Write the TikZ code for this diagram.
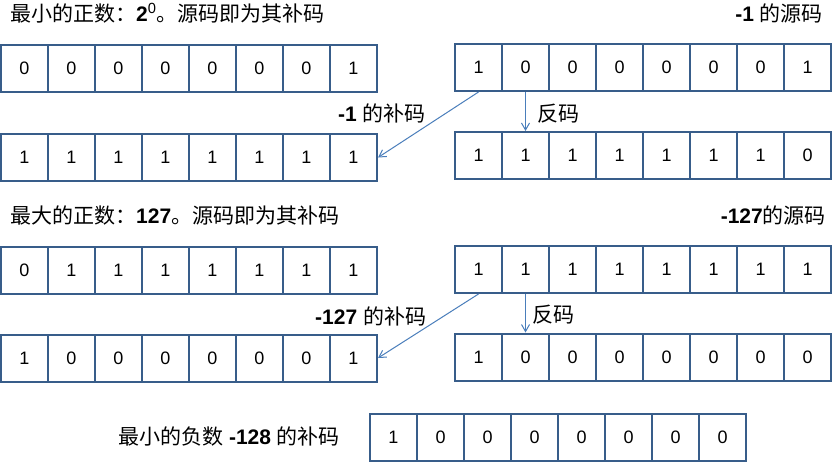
\documentclass[tikz,border=0pt]{standalone}
\usepackage{fontspec}
\setmainfont{Liberation Sans}
\newfontfamily\cjk{Noto Sans CJK SC}
\usetikzlibrary{arrows.meta}
\definecolor{cellblue}{HTML}{385D8A}
\definecolor{arrowblue}{HTML}{4A7EBB}
\newcommand\zh[1]{{\cjk #1}}
\newcommand\lt[1]{{\bfseries #1}}
\newcommand\bitrow[4]{%
  \foreach \v [count=\i] in {#4} {%
    \node[cell] (#1\i) at ({#2+23.5+47*(\i-1)}, #3) {\v};}}
\tikzset{
  cell/.style={draw=cellblue, line width=2pt, fill=white, minimum width=47pt,
    minimum height=47pt, inner sep=0pt, font=\fontsize{18}{20}\selectfont},
  lbl/.style={inner sep=0pt, font=\fontsize{21}{24}\selectfont},
  conn/.style={draw=arrowblue, line width=1pt, -{Straight Barb[length=7pt,width=8pt]}}
}
\begin{document}
\begin{tikzpicture}[x=1pt,y=-1pt]
\useasboundingbox[fill=white] (0,0) rectangle (835,463);
% section 1
\node[lbl, anchor=base west] (t1) at (10,21) {\zh{最小的正数：}\lt{2}\textsuperscript{0}\zh{。源码即为其补码}};
\node[lbl, anchor=base east] (t2) at (823,21) {\lt{-1} \zh{的源码}};
\bitrow{al}{1}{68.5}{0,0,0,0,0,0,0,1}
\bitrow{ar}{455}{67.5}{1,0,0,0,0,0,0,1}
\bitrow{bl}{1}{157.5}{1,1,1,1,1,1,1,1}
\bitrow{br}{455}{155.5}{1,1,1,1,1,1,1,0}
\node[lbl, anchor=base west] (l1) at (338,121) {\lt{-1} \zh{的补码}};
\node[lbl, anchor=base west] (f1) at (537,121) {\zh{反码}};
\draw[conn] (ar1.south) -- (bl8.east);
\draw[conn] (ar2.south) -- (br2.north);
% section 2
\node[lbl, anchor=base west] (t3) at (10,223) {\zh{最大的正数：}\lt{127}\zh{。源码即为其补码}};
\node[lbl, anchor=base east] (t4) at (826,223) {\lt{-127}\zh{的源码}};
\bitrow{cl}{1}{270}{0,1,1,1,1,1,1,1}
\bitrow{cr}{455}{269.5}{1,1,1,1,1,1,1,1}
\bitrow{dl}{1}{358}{1,0,0,0,0,0,0,1}
\bitrow{dr}{455}{357}{1,0,0,0,0,0,0,0}
\node[lbl, anchor=base west] (l2) at (315,324) {\lt{-127} \zh{的补码}};
\node[lbl, anchor=base west] (f2) at (532,322) {\zh{反码}};
\draw[conn] (cr1.south) -- (dl8.east);
\draw[conn] (cr2.south) -- (dr2.north);
% section 3
\node[lbl, anchor=base west] (t5) at (118,444) {\zh{最小的负数} \lt{-128} \zh{的补码}};
\bitrow{e}{370}{437}{1,0,0,0,0,0,0,0}
\end{tikzpicture}
\end{document}
